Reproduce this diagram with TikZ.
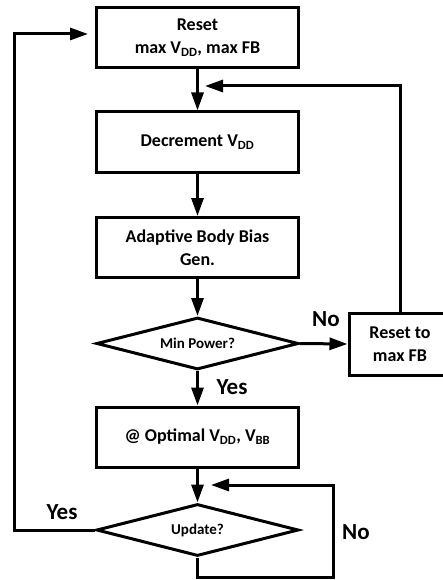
\documentclass[tikz,border=0pt]{standalone}
\usepackage{fontspec}
\setmainfont{Carlito}
\usetikzlibrary{shapes.geometric,arrows.meta}

\begin{document}
\begin{tikzpicture}[x=1pt,y=-1pt,
  box/.style={draw,line width=3pt,minimum width=202pt,minimum height=60pt,
    inner sep=0pt,align=center,font=\fontsize{18}{23}\selectfont\bfseries},
  decision/.style={draw,diamond,aspect=4,line width=3pt,minimum width=202pt,
    minimum height=52pt,inner sep=0pt,font=\fontsize{15}{18}\selectfont\bfseries},
  arr/.style={line width=3pt,-{Triangle[length=18pt,width=12pt]}},
  lbl/.style={font=\fontsize{23}{27}\selectfont\bfseries}]
\useasboundingbox (0,0) rectangle (443,580);

% Main column
\node[box] (reset) at (197.5,37.5) {Reset\\max V\textsubscript{DD}, max FB};
\node[box] (decr) at (197.5,142) {Decrement V\textsubscript{DD}};
\node[box] (abb) at (197.5,247.5) {Adaptive Body Bias\\Gen.};
\node[decision] (minp) at (197.5,343.5) {Min Power?};
\node[box] (opt) at (197.5,437) {@ Optimal V\textsubscript{DD}, V\textsubscript{BB}};
\node[decision] (upd) at (197.5,530) {Update?};

% Side box (runs off the right edge)
\node[box,minimum width=102pt,minimum height=62pt] (rfb) at (400,344) {Reset to\\max FB};

% Free ends of the loops
\coordinate (fbin) at (205,86);
\coordinate (noin) at (211,485);
\coordinate (nobot) at (333,577);
\coordinate (yesin) at (88,34);
\coordinate (yesleft) at (14,530);

% Arrows down the column
\draw[arr] (reset) -- (decr);
\draw[arr] (decr) -- (abb);
\draw[arr] (abb) -- (minp);
\draw[arr] (minp) -- (opt);
\draw[arr] (opt) -- (upd);

% Min Power loop
\draw[arr] (minp.east) -- (rfb.west);
\draw[arr] (rfb.north) |- (fbin);

% Update loops
\draw[arr] (upd.south) |- (nobot) |- (noin);
\draw[arr] (upd.west) -- (yesleft) |- (yesin);

% Labels
\node[lbl] (lno1) at (326,319) {No};
\node[lbl] (lyes1) at (232,387) {Yes};
\node[lbl] (lno2) at (356,532) {No};
\node[lbl] (lyes2) at (62,512) {Yes};

\end{tikzpicture}
\end{document}
